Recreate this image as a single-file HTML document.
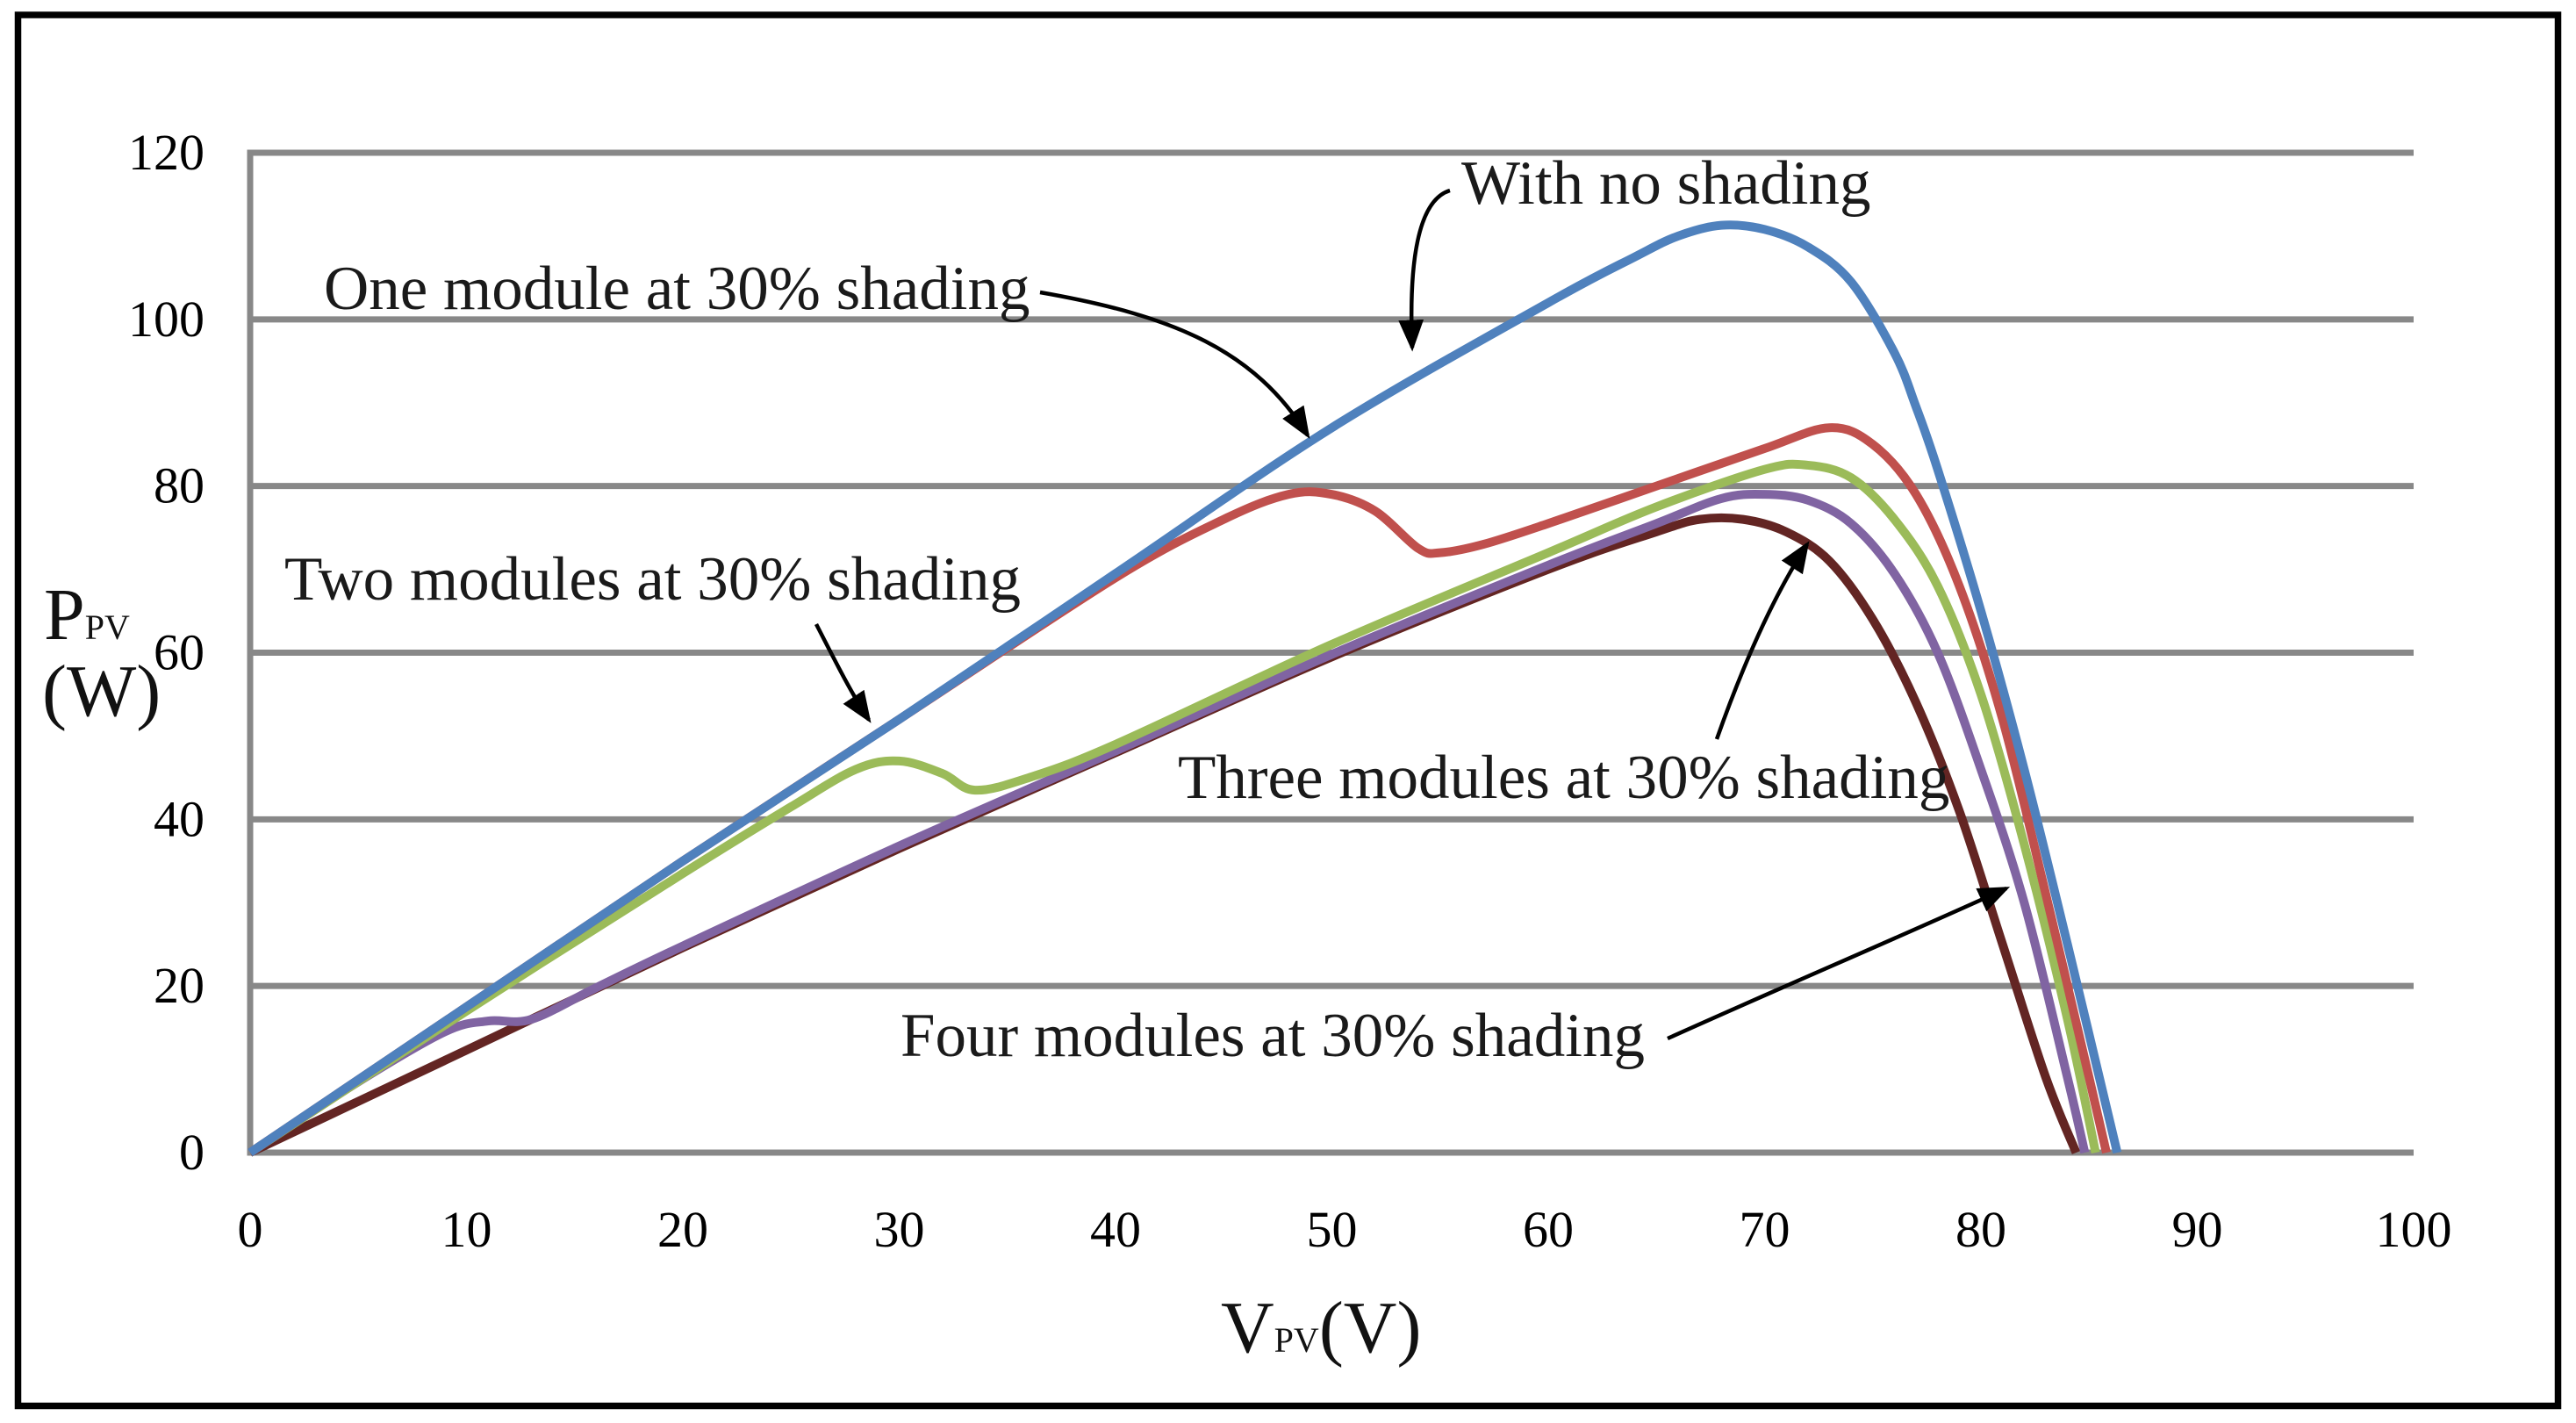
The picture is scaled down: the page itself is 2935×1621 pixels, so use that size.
<!DOCTYPE html>
<html><head><meta charset="utf-8"><style>
html,body{margin:0;padding:0;background:#fff;}
svg{display:block;font-family:"Liberation Serif","Times New Roman",serif;}
</style></head><body>
<svg id="chart" width="2935" height="1621" viewBox="0 0 2935 1621" xmlns="http://www.w3.org/2000/svg">
<defs>
<marker id="ah" markerWidth="8" markerHeight="8" refX="7" refY="4" orient="auto" markerUnits="strokeWidth">
<path d="M0,0.8 L8,4 L0,7.2 Z" fill="#000"/>
</marker>
</defs>
<rect x="20.5" y="17" width="2894" height="1584.5" fill="#fff" stroke="#000" stroke-width="7.5"/>
<g id="grid"></g>
<g id="ticks"></g>
<g id="series"></g>
<g fill="#1a1a1a" font-size="71">
<text x="1665" y="232">With no shading</text>
<path d="M1652,217 C1615,228 1605,300 1609,396" fill="none" stroke="#000" stroke-width="4.5" marker-end="url(#ah)"/>
<text x="369" y="352">One module at 30% shading</text>
<path d="M1185,333 C1340,360 1430,400 1490,496" fill="none" stroke="#000" stroke-width="4.5" marker-end="url(#ah)"/>
<text x="324" y="683">Two modules at 30% shading</text>
<path d="M930,711 C950,750 970,790 990,820" fill="none" stroke="#000" stroke-width="4.5" marker-end="url(#ah)"/>
<text x="1342" y="909">Three modules at 30% shading</text>
<path d="M1956,842 C1985,760 2020,680 2059,620" fill="none" stroke="#000" stroke-width="4.5" marker-end="url(#ah)"/>
<text x="1026" y="1203">Four modules at 30% shading</text>
<path d="M1900,1183 C2040,1120 2170,1065 2286,1012" fill="none" stroke="#000" stroke-width="4.5" marker-end="url(#ah)"/>
</g>
<g fill="#111">
<text x="50" y="728" font-size="84">P<tspan font-size="40" dy="0">PV</tspan></text>
<text x="48" y="815" font-size="84">(W)</text>
</g>
<text x="1391" y="1540" font-size="84" fill="#111">V<tspan font-size="40">PV</tspan>(V)</text>
</svg>
<script>
const xTicks=[0,10,20,30,40,50,60,70,80,90,100];
const yTicks=[0,20,40,60,80,100,120];
const vNone=[0,10,20,30,40,50,60,64,66,68,70,72,74,76,77,78,80,82,84,86.3];
const pNone=[0,17.5,35,52,69.5,87,102,107.5,110,111.3,110.8,108.7,104.5,96,89.5,82,65,46,25,0];
const vOne=[0,10,20,30,40,45,48,50,52,54,55,57,60,65,70,73,75,77,79,81,83,85,85.8];
const pOne=[0,17.5,35,52,69,76,79,79,77,72.5,72,73,75.5,80,84.5,87,85,79,68,52,31,9,0];
const vTwo=[0,10,20,25,28,30,32,33.5,36,40,50,60,65,70,72,74,76,78,80,82,84,85.3];
const pTwo=[0,17,33.5,41.5,46,47,45.5,43.5,45,49,61,72,77.5,82,82.5,81,76,68,55,37,16,0];
const vThree=[0,5,9,11,13,16,20,30,40,50,60,65,68,70,72,74,76,78,80,82,84,84.8];
const pThree=[0,8.5,14.5,15.8,16,19.8,24.8,36.8,48.2,59.8,70.5,75.5,78.5,79,78.3,75.5,69.5,60,46,30,9,0];
const vFour=[0,10,20,30,40,50,60,65,67,69,71,73,75,77,79,81,83,84.4];
const pFour=[0,12.3,24.6,36.5,48,59.5,70,74.5,76,76,74.5,71,64,54,41,25,9,0];
const X0=285,X1=2750,Y0=1313,Y1=174;
const sx=v=>X0+(X1-X0)*v/100;
const sy=p=>Y0-(Y0-Y1)*p/120;
const NS='http://www.w3.org/2000/svg';
const grid=document.getElementById('grid'),ticks=document.getElementById('ticks'),series=document.getElementById('series');
yTicks.forEach(t=>{
  const l=document.createElementNS(NS,'line');
  
  
  l.setAttribute('x1',X0);l.setAttribute('x2',X1);l.setAttribute('y1',sy(t));l.setAttribute('y2',sy(t));
  l.setAttribute('stroke','#888');l.setAttribute('stroke-width','7');
  grid.appendChild(l);
  const tx=document.createElementNS(NS,'text');
  
  
  tx.setAttribute('x',233);tx.setAttribute('y',sy(t)+19);tx.setAttribute('text-anchor','end');tx.setAttribute('font-size','58');
  tx.textContent=t;ticks.appendChild(tx);
});
const ax=document.createElementNS(NS,'line');


ax.setAttribute('x1',X0);ax.setAttribute('x2',X0);ax.setAttribute('y1',Y1-3.5);ax.setAttribute('y2',Y0+3.5);
ax.setAttribute('stroke','#888');ax.setAttribute('stroke-width','7');grid.appendChild(ax);
xTicks.forEach(t=>{
  const tx=document.createElementNS(NS,'text');
  
  
  tx.setAttribute('x',sx(t));tx.setAttribute('y',1420);tx.setAttribute('text-anchor','middle');tx.setAttribute('font-size','58');
  tx.textContent=t;ticks.appendChild(tx);
});
function pathFor(vs,ps){
  const pts=vs.map((v,i)=>[sx(v),sy(ps[i])]);
  let d='M'+pts[0][0]+','+pts[0][1];
  for(let i=0;i<pts.length-1;i++){
    const p0=pts[Math.max(0,i-1)],p1=pts[i],p2=pts[i+1],p3=pts[Math.min(pts.length-1,i+2)];
    const c1=[p1[0]+(p2[0]-p0[0])/6,p1[1]+(p2[1]-p0[1])/6];
    const c2=[p2[0]-(p3[0]-p1[0])/6,p2[1]-(p3[1]-p1[1])/6];
    d+=' C'+c1[0]+','+c1[1]+' '+c2[0]+','+c2[1]+' '+p2[0]+','+p2[1];
  }
  return d;
}
const addSeries=(vs,ps,color,name)=>{
  const p=document.createElementNS(NS,'path');
  
  
  p.setAttribute('d',pathFor(vs,ps));p.setAttribute('fill','none');p.setAttribute('stroke',color);
  p.setAttribute('stroke-width','10');p.setAttribute('stroke-linejoin','round');
  series.appendChild(p);
};
addSeries(vFour,pFour,'#632523','series-four-modules');
addSeries(vThree,pThree,'#8064A2','series-three-modules');
addSeries(vTwo,pTwo,'#9BBB59','series-two-modules');
addSeries(vOne,pOne,'#C0504D','series-one-module');
addSeries(vNone,pNone,'#4F81BD','series-no-shading');
</script>
</body></html>
